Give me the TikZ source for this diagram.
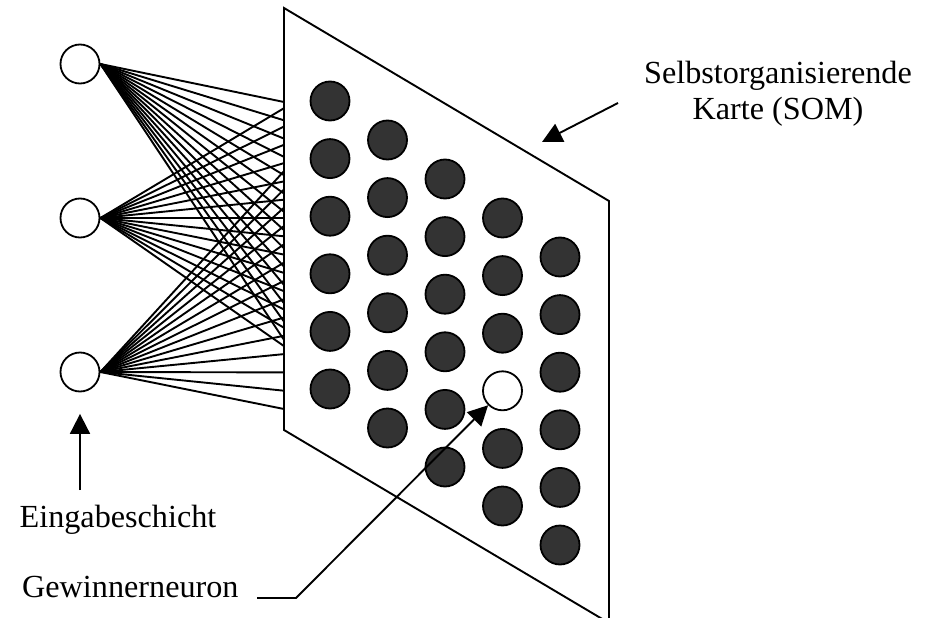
\documentclass[tikz,border=0pt]{standalone}
\usepackage{fontspec}
\setmainfont{Liberation Serif}
\usetikzlibrary{arrows.meta}
\definecolor{darkn}{HTML}{333333}
\begin{document}
\begin{tikzpicture}[x=1pt,y=-1pt,
  ln/.style={line width=1.9pt},
  inp/.style={circle,draw,line width=1.8pt,minimum size=39pt,inner sep=0pt,fill=white},
  som/.style={circle,draw,line width=1.8pt,minimum size=39pt,inner sep=0pt,fill=darkn},
  win/.style={som,fill=white},
  lbl/.style={font=\fontsize{32.2}{38}\selectfont,inner sep=0pt},
  arr/.style={ln,-{Triangle[length=20pt,width=20pt]}}]
\useasboundingbox (0,0) rectangle (937,618);
% plane
\draw[ln,line join=miter] (284,8) coordinate (pA) -- (609,201) coordinate (pB)
  -- (609,623) coordinate (pC) -- (284,430) coordinate (pD) -- cycle;
% input neurons
\node[inp] (in1) at (80,64) {};
\node[inp] (in2) at (80,218) {};
\node[inp] (in3) at (80,372) {};
% connections
\foreach \i in {0,...,13} {
  \coordinate (a\i) at (284,{102+18.3*\i});
  \draw[ln] (in1.east) -- (a\i);
  \coordinate (b\i) at (284,{218+18.3*(\i-6)});
  \draw[ln] (in2.east) -- (b\i);
  \coordinate (c\i) at (284,{409-18.3*\i});
  \draw[ln] (in3.east) -- (c\i);
}
% map neurons
\foreach \c in {0,...,4} {
  \foreach \r in {0,...,5} {
    \ifnum\c=3 \ifnum\r=3
      \node[win] (win) at ({330+57.5*\c},{101+39*\c+57.6*\r}) {};
    \else
      \node[som] (s\c\r) at ({330+57.5*\c},{101+39*\c+57.6*\r}) {};
    \fi
    \else
      \node[som] (s\c\r) at ({330+57.5*\c},{101+39*\c+57.6*\r}) {};
    \fi
  }
}
% labels
\node[lbl,anchor=base] (eing) at (118,527) {Eingabeschicht};
\coordinate (eingtail) at (80,490);
\draw[arr,shorten >=21.5pt] (eingtail) -- (in3.south);
\node[lbl,anchor=base west] (gw) at (22,597) {Gewinnerneuron};
\coordinate (gwstart) at (257,598);
\coordinate (gwbend) at (296,598);
\draw[arr] (gwstart) -- (gwbend) -- (win);
\node[lbl,anchor=base] (som1) at (778,83) {Selbstorganisierende};
\node[lbl,anchor=base] (som2) at (778,119) {Karte (SOM)};
\coordinate (somtail) at (618,103);
\coordinate (somtip) at (542,142);
\draw[arr] (somtail) -- (somtip);
\end{tikzpicture}
\end{document}
